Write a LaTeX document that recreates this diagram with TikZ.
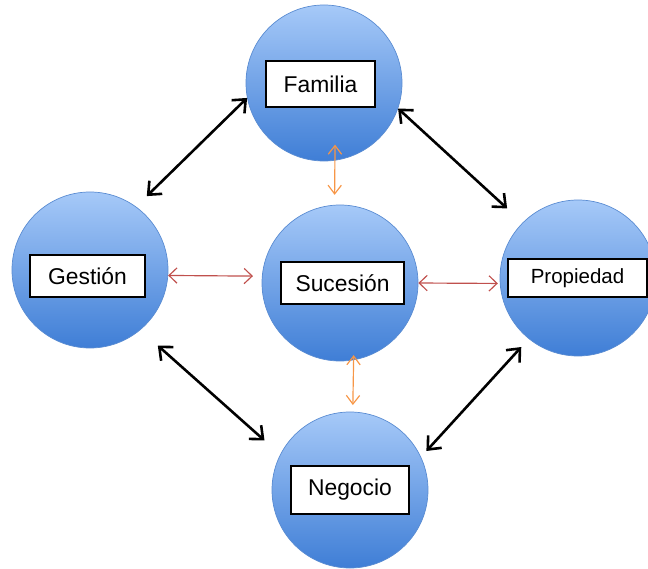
\documentclass[tikz,border=0pt]{standalone}
\usepackage{fontspec}
\setmainfont{Liberation Sans}
\usetikzlibrary{arrows.meta}
\definecolor{balltop}{HTML}{A6C9F8}
\definecolor{ballbottom}{HTML}{3F7ED6}
\definecolor{ballline}{HTML}{5A8CD2}
\definecolor{linkred}{HTML}{C0504D}
\definecolor{linkorange}{HTML}{F79646}
\begin{document}
\begin{tikzpicture}[x=0.03cm,y=-0.03cm,
  circ/.style={circle,minimum size=4.68cm,inner sep=0pt,draw=ballline,line width=0.6pt,top color=balltop,bottom color=ballbottom},
  lbl/.style={draw,fill=white,line width=1.1pt,inner sep=0pt,font=\fontsize{19.5}{22}\selectfont},
  bigarrow/.style={line width=2.2pt,{Straight Barb[length=3.2mm,width=5.5mm]}-{Straight Barb[length=3.2mm,width=5.5mm]}},
  redarrow/.style={draw=linkred,line width=1pt,{Straight Barb[length=2.4mm,width=4.6mm]}-{Straight Barb[length=2.4mm,width=4.6mm]}},
  orangearrow/.style={draw=linkorange,line width=1pt,{Straight Barb[length=2.6mm,width=4mm]}-{Straight Barb[length=2.6mm,width=4mm]}}]
\useasboundingbox (0,0) rectangle (648,569);
% circles
\node[circ] (fam) at (324,83) {};
\node[circ] (ges) at (90,270) {};
\node[circ] (suc) at (340,283) {};
\node[circ] (pro) at (578,278) {};
\node[circ] (neg) at (350,490) {};
% labels
\node[lbl,minimum width=3.27cm,minimum height=1.38cm] (famlbl) at (320.5,84) {Familia};
\node[lbl,minimum width=3.45cm,minimum height=1.26cm] (geslbl) at (87.5,276) {Gestión};
\node[lbl,minimum width=3.69cm,minimum height=1.26cm] (suclbl) at (342.5,283) {Sucesión};
\node[lbl,minimum width=4.17cm,minimum height=1.14cm,font=\fontsize{17.5}{20}\selectfont] (prolbl) at (577.5,278) {Propiedad};
\node[lbl,minimum width=3.54cm,minimum height=1.44cm] (neglbl) at (350,490) {Negocio};
% links
\draw[bigarrow,shorten >=0.45cm] (fam.191) -- (ges.54);
\draw[bigarrow,shorten >=0.63cm] (fam.341) -- (pro.135);
\draw[bigarrow,shorten <=0.7cm,shorten >=0.63cm] (ges.310) -- (neg.153);
\draw[bigarrow,shorten <=0.33cm,shorten >=0.24cm] (pro.231) -- (neg.25);
\draw[redarrow,shorten >=0.27cm] (ges.-4) -- (suc.175);
\draw[redarrow,shorten >=0.06cm] (suc.0) -- (pro.184);
\draw[orangearrow,shorten <=-0.48cm,shorten >=0.3cm] (fam.278) -- (suc.94);
\draw[orangearrow,shorten <=-0.15cm,shorten >=0.2cm] (suc.280) -- (neg.88);
\end{tikzpicture}
\end{document}
